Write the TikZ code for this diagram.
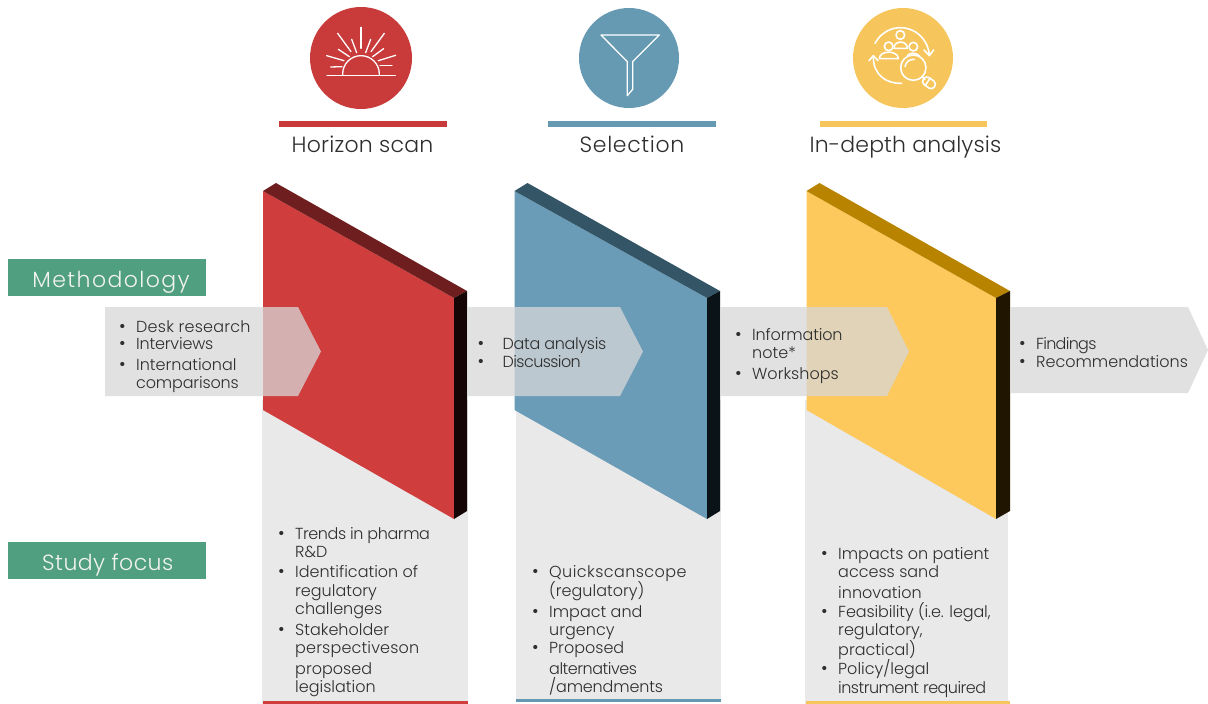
\documentclass[tikz,border=0pt]{standalone}
\usepackage{fontspec}
\setmainfont{Poppins}[UprightFont=* Light]
\usetikzlibrary{arrows.meta}
\definecolor{rFront}{HTML}{D03D3D}\definecolor{rTop}{HTML}{6E1E1E}\definecolor{rSide}{HTML}{150505}
\definecolor{bFront}{HTML}{6A9CB8}\definecolor{bTop}{HTML}{335566}\definecolor{bSide}{HTML}{0A1418}
\definecolor{yFront}{HTML}{FDC95C}\definecolor{yTop}{HTML}{B88400}\definecolor{ySide}{HTML}{1F1500}
\definecolor{rIcon}{HTML}{C93B3B}\definecolor{bIcon}{HTML}{6699B2}\definecolor{yIcon}{HTML}{F6C55C}
\definecolor{panelgray}{HTML}{E9E9E9}\definecolor{bandgray}{HTML}{D7D7D7}
\definecolor{tealbox}{HTML}{4F9F80}\definecolor{ink}{HTML}{2E2E2E}
\tikzset{
  band/.style={fill=bandgray,fill opacity=.75},
  panel/.style={fill=panelgray},
  iconline/.style={draw=white,line width=1.3pt,line cap=round,line join=round,fill=none},
  tline/.style={anchor=base west,inner sep=0pt,text=ink,font=\fontsize{16}{16}\selectfont},
  bul/.style={anchor=base,inner sep=0pt,text=ink,font=\fontsize{18}{18}\selectfont},
  head/.style={anchor=base,inner sep=0pt,text=ink,font=\fontsize{22}{22}\selectfont},
  tealnode/.style={fill=tealbox,inner sep=0pt,minimum width=198pt,minimum height=37pt,text height=19pt,text depth=0pt,text=white!95!black,font=\fontsize{22}{22}\selectfont},
}
\newcommand{\ls}[2]{{\addfontfeature{LetterSpace=#1}#2}}
\newcommand{\plate}[6]{% left x, front right x, back x, front, top, side
  \fill[#4] (#1,191) -- (#2,298) -- (#2,519) -- (#1,410) -- cycle;
  \fill[#5] (#1,191) -- (#1+13,183) -- (#3,291) -- (#2,298) -- cycle;
  \fill[#6] (#2,298) -- (#3,291) -- (#3,511) -- (#2,519) -- cycle;
}
\newcommand{\itm}[4]{\node[bul] (b#1) at (#2-13.5,#3+.7) {•};\node[tline] (t#1) at (#2,#3) {#4};}
\newcommand{\lin}[4]{\node[tline] (t#1) at (#2,#3) {#4};}
\begin{document}
\begin{tikzpicture}[x=1pt,y=-1pt]
\useasboundingbox (0,0) rectangle (1208,704);
% panels
\fill[panel] (262,400) rectangle (468,704);
\fill[panel] (516,400) rectangle (721,702);
\fill[panel] (805,400) rectangle (1008,704);
\fill[rFront] (263,701.2) rectangle (468,704);
\fill[bIcon] (516,699.3) rectangle (721,702);
\fill[yIcon] (806,701.2) rectangle (1010,704);
% plates
\plate{263}{454}{467}{rFront}{rTop}{rSide}
\plate{514.5}{707}{720}{bFront}{bTop}{bSide}
\plate{806.5}{996}{1010}{yFront}{yTop}{ySide}
% bands
\fill[band] (105,307) -- (298,307) -- (321,351.5) -- (298,396) -- (105,396) -- cycle;
\fill[band] (467,307) -- (620,307) -- (643,351.5) -- (620,396) -- (467,396) -- cycle;
\fill[band] (720,307) -- (887,307) -- (909,351.5) -- (887,396) -- (720,396) -- cycle;
\fill[band] (1010,307) -- (1188,307) -- (1208,350) -- (1188,393) -- (1010,393) -- cycle;
% teal labels
\node[tealnode] (methodology) at (107,277.5) {\hspace*{8pt}\ls{6.5}{Methodology}};
\node[tealnode] (studyfocus) at (107,560.5) {\hspace*{1.5pt}\ls{2}{Study focus}};
% icon circles and bars
\fill[rIcon] (361,58) circle (51);
\fill[bIcon] (629,58) circle (50);
\fill[yIcon] (903,58) circle (50);
\fill[rIcon] (279,121) rectangle (447,127);
\fill[bIcon] (548,121) rectangle (716,127);
\fill[yIcon] (820,121) rectangle (987,127);
% sun
\begin{scope}[shift={(270,0)},x=.3333pt,y=-.3333pt]
  \draw[iconline] (171,226) -- (376,226);
  \draw[iconline] (218,224) -- (218,222) arc[start angle=180,end angle=360,radius=55] -- (328,224);
  \foreach \a/\b/\c/\d in {273/82/273/145,203/100/243/155,343/100/303/155,245/118/260/158,302/118/287/158,205/148/238/170,341/146/308/170,170/167/222/182,377/166/325/182,182/201/216/200,330/197/366/197}
    \draw[iconline] (\a,\b) -- (\c,\d);
\end{scope}
% funnel
\begin{scope}[shift={(540,0)},x=.3333pt,y=-.3333pt]
  \draw[iconline,line cap=butt] (183,105) -- (358,105) -- (278,185) -- (278,268) -- (262,287) -- (262,185) -- cycle;
\end{scope}
% analysis icon
\begin{scope}[shift={(820,0)},x=.3333pt,y=-.3333pt,iconbold/.style={iconline,line width=1.6pt}]
  \draw[iconbold] (165,130) .. controls (190,85) and (240,70) .. (285,95) .. controls (310,110) and (325,135) .. (328,165);
  \draw[iconbold] (312,150) -- (328,167) -- (341,150);
  \draw[iconbold] (245,250) .. controls (200,252) and (160,225) .. (160,172);
  \draw[iconbold] (147,182) -- (160,167) -- (174,182);
  \draw[iconbold] (241,105) circle[radius=13];
  \draw[iconbold] (222,145) .. controls (222,120) and (262,120) .. (262,145) -- (222,145);
  \draw[iconbold] (206,139) circle[radius=13];
  \draw[iconbold] (178,176) .. controls (178,150) and (235,150) .. (235,176) -- cycle;
  \draw[iconbold] (280,140) circle[radius=13];
  \draw[iconbold] (262,168) .. controls (266,158) and (288,156) .. (299,168);
  \draw[iconbold] (280,203) circle[radius=38];
  \draw[iconbold] (255,200) .. controls (258,185) and (268,178) .. (283,178);
  \draw[iconbold] (306,230) -- (315,238);
  \draw[iconbold,rounded corners=4pt] (318,226) -- (351,250) -- (336,271) -- (303,247) -- cycle;
  \draw[iconbold] (330,235) -- (316,256);
\end{scope}
% headings
\node[head] (h1) at (362.5,152) {\ls{1}{Horizon scan}};
\node[head] (h2) at (632,152) {\ls{3}{Selection}};
\node[head] (h3) at (905.5,152) {\ls{.6}{In-depth analysis}};
% band texts
\itm{a1}{136}{332}{\ls{1.4}{Desk research}}
\itm{a2}{136}{349}{\ls{-1.2}{Interviews}}
\itm{a3}{136}{370}{International}
\lin{a4}{136}{388}{\ls{-1}{comparisons}}
\node[bul] (bb1) at (481,349.7) {•};\node[tline] (tb1) at (502.5,349) {\ls{-2}{Data analysis}};
\node[bul] (bb2) at (481,367.7) {•};\node[tline] (tb2) at (502.5,367) {\ls{-3.7}{Discussion}};
\itm{c1}{752}{340}{\ls{-1}{Information}}
\lin{c2}{752}{358}{note*}
\itm{c3}{752}{379}{Workshops}
\itm{d1}{1036}{349}{\ls{-4.5}{Findings}}
\itm{d2}{1036}{367}{Recommendations}
% panel texts
\itm{e1}{295}{539}{\ls{-2.7}{Trends in pharma}}
\lin{e2}{295}{557}{R\&D}
\itm{e3}{295}{577}{Identification of}
\lin{e4}{295}{596}{regulatory}
\lin{e5}{295}{614}{challenges}
\itm{e6}{295}{635}{Stakeholder}
\lin{e7}{295}{653}{\ls{1}{perspectiveson}}
\lin{e8}{295}{674}{proposed}
\lin{e9}{295}{692}{legislation}
\itm{f1}{549}{577}{\ls{2.7}{Quickscanscope}}
\lin{f2}{549}{596}{(regulatory)}
\itm{f3}{549}{617}{Impact and}
\lin{f4}{549}{635}{urgency}
\itm{f5}{549}{653}{Proposed}
\lin{f6}{549}{674}{\ls{-3}{alternatives}}
\lin{f7}{549}{692}{\ls{-1}{/amendments}}
\itm{g1}{838}{559}{Impacts on patient}
\lin{g2}{838}{577}{access sand}
\lin{g3}{838}{598}{innovation}
\itm{g4}{838}{617}{\ls{-.7}{Feasibility (i.e. legal,}}
\lin{g5}{838}{635}{regulatory,}
\lin{g6}{838}{655}{practical)}
\itm{g7}{838}{674}{Policy/legal}
\lin{g8}{838}{693}{\ls{-3.3}{instrument required}}
\end{tikzpicture}
\end{document}
